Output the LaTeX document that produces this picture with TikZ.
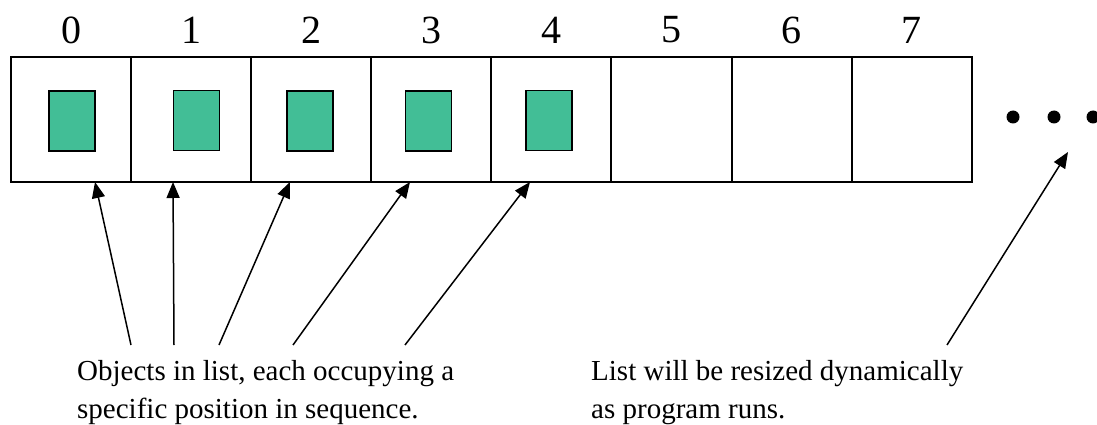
\documentclass[tikz,border=0pt]{standalone}
\usepackage{fontspec}
\setmainfont{Liberation Serif}
\usetikzlibrary{arrows.meta, positioning}
\definecolor{slotgreen}{RGB}{66,190,150}

\begin{document}
\begin{tikzpicture}[x=1pt, y=-1pt, font=\fontsize{29}{38}\selectfont,
    cell/.style={draw, line width=2pt, minimum width=120.1pt, minimum height=125pt, inner sep=0pt},
    item/.style={draw, line width=1.6pt, fill=slotgreen, minimum width=46pt, minimum height=60pt, inner sep=0pt},
    idx/.style={font=\fontsize{40}{40}\selectfont, inner sep=0pt},
    dot/.style={circle, fill=black, minimum size=13pt, inner sep=0pt},
    >={Triangle[length=16pt, width=13pt]}]
    \useasboundingbox (0,0) rectangle (1097,425);
    % the slots and their numbers
    \foreach \i in {0,...,7} {
        \node[cell] (c\i) at ({71+120.1*\i},119.5) {};
        \node[idx] (n\i) at ({71+120.1*\i},30) {\i};
    }
    % objects held in the first five slots
    \node[item] (g0) at (72,121) {};
    \node[item] (g1) at (196.5,120.5) {};
    \node[item] (g2) at (310,121) {};
    \node[item] (g3) at (428.5,121) {};
    \node[item] (g4) at (549,120.5) {};
    \node[dot] (d0) at (1013,117) {};
    \node[dot] (d1) at (1054,117) {};
    \node[dot] (d2) at (1093,117) {};
    % captions
    \node[anchor=north west, inner sep=0pt, align=left] (objtext) at (77,360)
        {Objects in list, each occupying a\\specific position in sequence.};
    \node[anchor=north west, inner sep=0pt, align=left] (growtext) at (591,360)
        {List will be resized dynamically\\as program runs.};
    % arrows
    \coordinate (a0) at (131,345); \coordinate (t0) at (95,182);
    \coordinate (a1) at (174,345); \coordinate (t1) at (173,182);
    \coordinate (a2) at (219,345); \coordinate (t2) at (290,182);
    \coordinate (a3) at (293,345); \coordinate (t3) at (410,182);
    \coordinate (a4) at (405,345); \coordinate (t4) at (530,182);
    \coordinate (a5) at (947,345); \coordinate (t5) at (1068,152);
    \draw[->, line width=1.5pt] (a0) -- (t0);
    \draw[->, line width=1.5pt] (a1) -- (t1);
    \draw[->, line width=1.5pt] (a2) -- (t2);
    \draw[->, line width=1.5pt] (a3) -- (t3);
    \draw[->, line width=1.5pt] (a4) -- (t4);
    \draw[->, line width=1.5pt] (a5) -- (t5);
\end{tikzpicture}
\end{document}
